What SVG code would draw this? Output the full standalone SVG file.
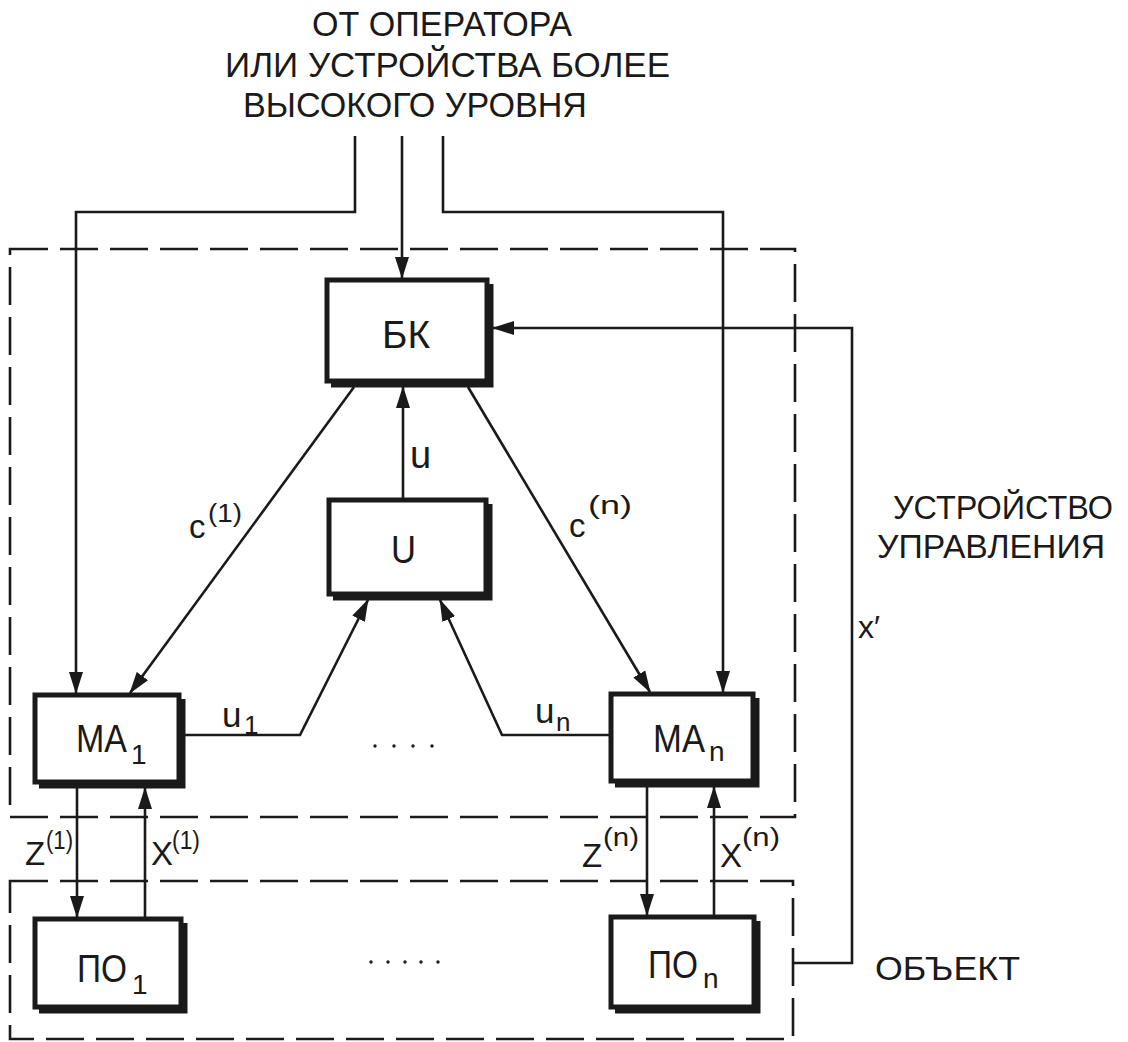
<svg xmlns="http://www.w3.org/2000/svg" width="1128" height="1042" viewBox="0 0 1128 1042">
<defs>
<marker id="ah" markerUnits="userSpaceOnUse" markerWidth="22" markerHeight="16" refX="21" refY="8" orient="auto">
<path d="M0,1 L22,8 L0,15 Z" fill="#1a1a1a"/>
</marker>
<style>
.ln{fill:none;stroke:#1a1a1a;stroke-width:2.6}
.dash{fill:none;stroke:#1a1a1a;stroke-width:2.6;stroke-dasharray:38 12}
.box{fill:#fff;stroke:#1a1a1a;stroke-width:5}
.sh{fill:none;stroke:#1a1a1a;stroke-width:5}
text{font-family:"Liberation Sans","DejaVu Sans",sans-serif;fill:#1a1a1a}
.big{font-size:35px}
.bt{font-size:38px}
.lb{font-size:33px}
.sup{font-size:26px}
.dot{fill:#1a1a1a}
</style>
</defs>
<rect width="1128" height="1042" fill="#fff"/>

<g id="title">
<text class="big" x="312" y="36" textLength="260" lengthAdjust="spacingAndGlyphs">ОТ ОПЕРАТОРА</text>
<text class="big" x="225" y="77" textLength="445" lengthAdjust="spacingAndGlyphs">ИЛИ УСТРОЙСТВА БОЛЕЕ</text>
<text class="big" x="243" y="117" textLength="344" lengthAdjust="spacingAndGlyphs">ВЫСОКОГО УРОВНЯ</text>
</g>

<g id="frames">
<path class="dash" d="M10,249 H795 V817 H10 Z"/>
<path class="dash" d="M10,881 H793 V1039 H10 Z"/>
</g>

<g id="connectors">
<path class="ln" d="M355,136 V212 H76 V693" marker-end="url(#ah)"/>
<path class="ln" d="M402,136 V278" marker-end="url(#ah)"/>
<path class="ln" d="M443,136 V212 H723 V692" marker-end="url(#ah)"/>
<path class="ln" d="M793,963 H852 V328 H493" marker-end="url(#ah)"/>
<path class="ln" d="M403,498 V387" marker-end="url(#ah)"/>
<path class="ln" d="M354,387 L130,693" marker-end="url(#ah)"/>
<path class="ln" d="M468,387 L650,692" marker-end="url(#ah)"/>
<path class="ln" d="M185,735 H300 L368,600" marker-end="url(#ah)"/>
<path class="ln" d="M609,735 H502 L440,600" marker-end="url(#ah)"/>
<path class="ln" d="M77,788 V917" marker-end="url(#ah)"/>
<path class="ln" d="M145,917 V788" marker-end="url(#ah)"/>
<path class="ln" d="M647,787 V915" marker-end="url(#ah)"/>
<path class="ln" d="M714,915 V787" marker-end="url(#ah)"/>
</g>

<g id="BK">
<rect class="box" x="327" y="280" width="160" height="101"/>
<path class="sh" d="M491,284 V385 H331"/>
<text class="bt" x="382" y="348" textLength="48" lengthAdjust="spacingAndGlyphs">БК</text>
</g>

<g id="U">
<rect class="box" x="329" y="500" width="157" height="94"/>
<path class="sh" d="M490,504 V598 H333"/>
<text class="bt" x="391" y="563" textLength="25" lengthAdjust="spacingAndGlyphs">U</text>
</g>

<g id="MA1">
<rect class="box" x="35" y="695" width="144" height="87"/>
<path class="sh" d="M183,699 V786 H39"/>
<text class="bt" x="76" y="752" textLength="51" lengthAdjust="spacingAndGlyphs">MA</text>
<text style="font-size:28px" x="131" y="764">1</text>
</g>

<g id="MAn">
<rect class="box" x="611" y="694" width="142" height="87"/>
<path class="sh" d="M757,698 V785 H615"/>
<text class="bt" x="653" y="752" textLength="52" lengthAdjust="spacingAndGlyphs">MA</text>
<text style="font-size:28px" x="709" y="761">n</text>
</g>

<g id="PO1">
<rect class="box" x="35" y="919" width="146" height="88"/>
<path class="sh" d="M185,923 V1011 H39"/>
<text class="bt" x="77" y="982" textLength="50" lengthAdjust="spacingAndGlyphs">ПО</text>
<text style="font-size:28px" x="132" y="994">1</text>
</g>

<g id="POn">
<rect class="box" x="611" y="917" width="143" height="90"/>
<path class="sh" d="M758,921 V1011 H615"/>
<text class="bt" x="648" y="978" textLength="50" lengthAdjust="spacingAndGlyphs">ПО</text>
<text style="font-size:28px" x="703" y="988">n</text>
</g>

<g id="labels">
<text style="font-size:38px" x="410" y="468">u</text>
<text class="lb" x="189" y="538">c</text>
<text class="sup" x="208" y="522" textLength="34" lengthAdjust="spacingAndGlyphs">(1)</text>
<text class="lb" x="569" y="537">c</text>
<text class="sup" x="588" y="514" textLength="44" lengthAdjust="spacingAndGlyphs">(n)</text>
<text style="font-size:35px" x="222" y="727">u</text>
<text class="sup" x="244" y="734">1</text>
<text style="font-size:35px" x="535" y="723">u</text>
<text class="sup" x="556" y="731">n</text>
<text class="lb" x="25" y="865">Z</text>
<text class="sup" x="46" y="849" textLength="27" lengthAdjust="spacingAndGlyphs">(1)</text>
<text class="lb" x="151" y="865">X</text>
<text class="sup" x="172" y="849" textLength="28" lengthAdjust="spacingAndGlyphs">(1)</text>
<text class="lb" x="582" y="867">Z</text>
<text class="sup" x="603" y="846" textLength="36" lengthAdjust="spacingAndGlyphs">(n)</text>
<text class="lb" x="720" y="867">X</text>
<text class="sup" x="742" y="846" textLength="38" lengthAdjust="spacingAndGlyphs">(n)</text>
<text style="font-size:32px" x="858" y="638">x′</text>
<text class="lb" x="893" y="519" textLength="220" lengthAdjust="spacingAndGlyphs">УСТРОЙСТВО</text>
<text class="lb" x="877" y="558" textLength="228" lengthAdjust="spacingAndGlyphs">УПРАВЛЕНИЯ</text>
<text class="lb" x="875" y="980" textLength="145" lengthAdjust="spacingAndGlyphs">ОБЪЕКТ</text>
</g>

<g id="dots">
<circle class="dot" cx="375" cy="746" r="1.7"/>
<circle class="dot" cx="394" cy="746" r="1.7"/>
<circle class="dot" cx="413" cy="746" r="1.7"/>
<circle class="dot" cx="432" cy="746" r="1.7"/>
<circle class="dot" cx="371" cy="962" r="1.7"/>
<circle class="dot" cx="388" cy="962" r="1.7"/>
<circle class="dot" cx="405" cy="962" r="1.7"/>
<circle class="dot" cx="421" cy="962" r="1.7"/>
<circle class="dot" cx="438" cy="962" r="1.7"/>
</g>
</svg>
